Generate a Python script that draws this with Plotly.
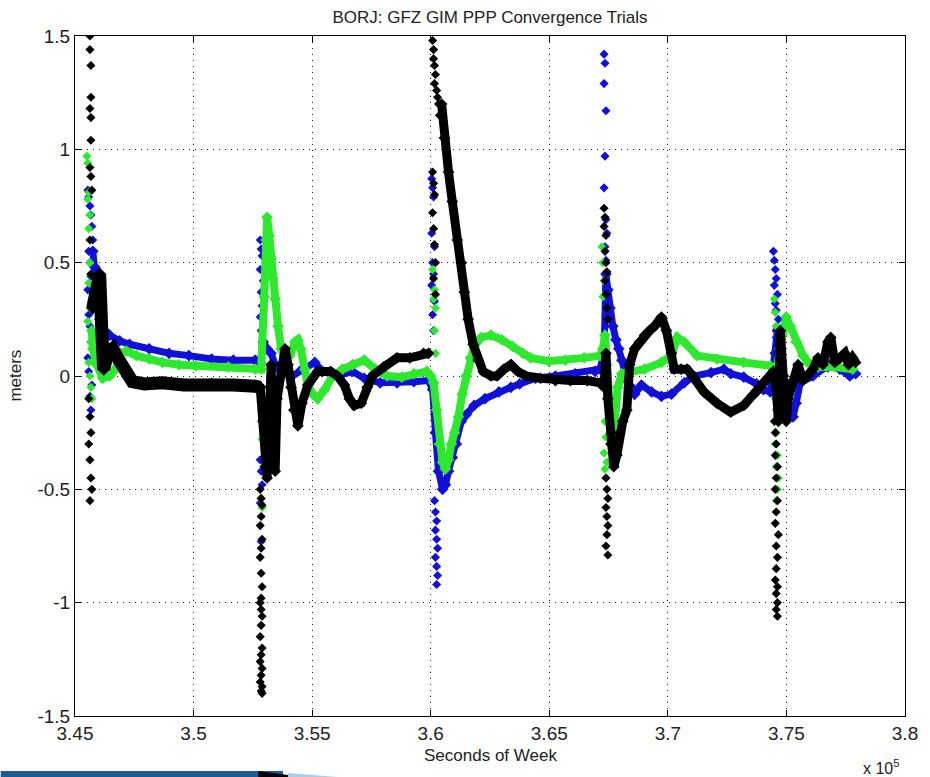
import plotly.graph_objects as go

# ---------------- data (x: seconds of week, y: meters) ----------------
blue_band_x = [345750, 345840, 345920, 346040, 346250, 346460, 346880, 347300, 348130, 348970, 349800, 350760, 351680, 352600, 352810,
               352940, 353100, 353270, 353440, 353690, 354150, 354570, 355110, 355440, 356070, 356700, 357200, 357870, 358580, 359290, 359910,
               360080, 360200, 360330, 360500, 360620, 360750, 360910, 361080, 361290, 361500, 361830, 362290, 362880, 363380, 363750, 364420, 365260, 366090, 366930, 367140,
               367310, 367390, 367470, 367560, 367680, 367810, 367930, 368060, 368270, 368470, 368600, 368890, 369310, 369730, 370150, 370690, 371110, 371820, 372360, 372650, 373200, 373740, 374030, 374320,
               374530, 374620, 374740, 374870, 375070, 375280, 375410, 375580, 376120, 376750, 376830, 377250, 377670, 377920]
blue_band_y = [0.55, 0.48, 0.38, 0.25, 0.2, 0.18, 0.155, 0.14, 0.12, 0.10, 0.09, 0.075, 0.07, 0.07, 0.06,
               0.15, 0.12, 0.1, 0.05, 0.02, 0.0, 0.03, 0.06, 0.02, 0.0, 0.02, -0.01, -0.03, -0.03, -0.025, -0.02,
               -0.06, -0.25, -0.42, -0.5, -0.48, -0.42, -0.36, -0.3, -0.2, -0.17, -0.13, -0.1, -0.07, -0.05, -0.035, -0.01, 0.0, 0.01, 0.02, 0.03,
               0.1, 0.45, 0.38, 0.3, 0.22, 0.16, 0.12, 0.07, -0.02, -0.05, -0.08, -0.04, -0.07, -0.09, -0.08, -0.03, 0.0, 0.015, 0.03, 0.01, -0.005, -0.035, -0.06, -0.07,
               0.1, 0.2, 0.05, -0.08, -0.15, -0.18, -0.12, -0.03, 0.0, 0.04, 0.05, 0.03, 0.0, 0.01]

blue_pts_x = [345540, 345580, 345630, 345670, 345710, 345750, 345580, 345630, 345670, 345540, 345710, 345580, 345630, 345670, 345540, 345580, 345710, 345630, 345670,
              352810, 352850, 352890, 352810, 352940, 352850, 352890, 352810, 352850, 352940, 352810, 352850, 352890, 352810, 352850,
              360040, 360080, 360120, 360040, 360160, 360080, 360120, 360040, 360160, 360080, 360120, 360160, 360200, 360250, 360200, 360250, 360290, 360200, 360250, 360290, 360250,
              367310, 367350, 367310, 367390, 367350, 367310, 367390, 367430, 367350, 367390,
              374450, 374490, 374530, 374570, 374490, 374620, 374530, 374570, 374660, 374620, 374570]
blue_pts_y = [0.82, 0.79, 0.75, 0.71, 0.66, 0.6, 0.55, 0.5, 0.44, 0.38, 0.33, 0.27, 0.22, 0.15, 0.08, 0.02, -0.04, -0.09, -0.15,
              0.6, 0.56, 0.53, 0.47, 0.42, 0.37, 0.31, 0.26, 0.2, 0.15, -0.37, -0.42, -0.48, -0.56, -0.73,
              0.87, 0.83, 0.79, 0.63, 0.57, 0.5, 0.45, 0.4, 0.33, 0.27, 0.2, -0.55, -0.6, -0.64, -0.68, -0.72, -0.76, -0.8, -0.84, -0.88, -0.92,
              1.42, 1.38, 1.29, 1.17, 0.97, 0.83, 0.69, 0.63, 0.57, 0.51,
              0.55, 0.51, 0.47, 0.43, 0.4, 0.36, 0.32, 0.29, 0.25, 0.21, 0.17]

green_band_x = [345710, 345750, 345920, 346170, 346460, 346710, 346920, 347170, 347590, 348130, 348680, 349390, 350100, 351470, 352600, 352850,
                352980, 353060, 353100, 353190, 353270, 353350, 353440, 353560, 353690, 353860, 354060, 354270, 354400, 354520, 354690, 354820, 355020, 355230, 355530, 355860, 356280, 356700, 357200, 357660, 358160, 358780, 359290, 359830, 360000,
                360120, 360250, 360370, 360500, 360620, 360750, 360870, 361000, 361170, 361330, 361500, 361670, 361830, 362130, 362540, 363000, 363460, 363880, 364210, 364970, 365680, 366470, 367140,
                367260, 367350, 367430, 367510, 367600, 367680, 367760, 367890, 368060, 368470, 369020, 369730, 370150, 370400, 370690, 371230, 372070, 373200, 374320, 374570,
                374740, 374870, 374990, 375160, 375410, 375700, 375910, 376330, 377040, 377790]
green_band_y = [0.2, 0.12, 0.05, -0.01, 0.0, 0.03, 0.1, 0.11, 0.09, 0.075, 0.06, 0.05, 0.045, 0.04, 0.03, 0.03,
                0.35, 0.6, 0.7, 0.62, 0.52, 0.43, 0.34, 0.22, 0.12, 0.07, 0.09, 0.15, 0.16, 0.12, 0.03, -0.04, -0.08, -0.1, -0.06, 0.0, 0.03, 0.05, 0.07, 0.03, 0.0, -0.005, 0.01, 0.02, 0.0,
                -0.03, -0.15, -0.3, -0.38, -0.41, -0.37, -0.3, -0.25, -0.18, -0.08, 0.0, 0.08, 0.13, 0.17, 0.18, 0.16, 0.13, 0.1, 0.08, 0.065, 0.07, 0.08, 0.09,
                0.12, 0.18, 0.05, -0.1, -0.25, -0.32, -0.2, -0.05, 0.01, 0.02, 0.03, 0.06, 0.09, 0.17, 0.15, 0.09, 0.075, 0.06, 0.045, 0.02,
                0.12, 0.22, 0.26, 0.22, 0.15, 0.09, 0.06, 0.04, 0.04, 0.03]

green_pts_x = [345500, 345540, 345580, 345540, 345620, 345580, 345630, 345670, 345580, 345630, 345540, 345670, 345580, 345630, 345670, 345710,
               352850, 352890, 352850, 352940, 352890, 352850, 352890,
               360080, 360120, 360160, 360120, 360200, 360160, 360200,
               367220, 367260, 367310, 367260, 367350, 367390, 367310, 367430, 367350, 367390,
               374490, 374530, 374570, 374530, 374570, 374620, 374570, 374530, 374620, 374570, 374660, 374620, 374570]
green_pts_y = [0.97, 0.94, 0.81, 0.78, 0.71, 0.65, 0.5, 0.45, 0.41, 0.3, 0.24, 0.15, 0.06, 0.0, -0.05, -0.1,
               -0.1, -0.15, -0.2, -0.24, -0.28, -0.54, -0.58,
               0.47, 0.43, 0.38, 0.34, 0.3, 0.2, 0.1,
               0.57, 0.5, 0.42, 0.35, -0.2, -0.27, -0.34, -0.38, -0.41, -0.45,
               0.34, 0.28, 0.22, -0.1, -0.15, -0.2, -0.25, -0.3, -0.35, -0.4, -0.45, -0.5, -0.55]

black1_band_x = [345750, 345920, 346040, 346130, 346210, 346380, 346590, 346800, 347000, 347210, 347420, 347920, 348680, 349590, 350760, 351680, 352600, 352810]
black1_band_y = [0.3, 0.4, 0.45, 0.2, 0.03, 0.1, 0.12, 0.08, 0.045, 0.0, -0.025, -0.035, -0.03, -0.04, -0.035, -0.04, -0.045, -0.05]

black_band_x = [352810, 352940, 353020, 353100, 353190, 353270, 353350, 353440, 353520, 353690, 353860, 353980, 354110, 354230, 354400, 354570, 354820, 355230, 355780, 356070, 356360, 356570, 356780, 357070, 357320, 357530, 358030, 358580, 359120, 359700, 359910,
                None,
                360460, 360580, 360750, 360910, 361120, 361290, 361420, 361580, 361790, 362000, 362210, 362540, 362790, 363090, 363380, 363670, 364010, 364630, 365260, 365890, 366600, 367140,
                367310, 367390, 367470, 367600, 367720, 367850, 367970, 368100, 368270, 368390, 368600, 368810, 369020, 369230, 369440, 369730, 369940, 370150, 370270, 370560, 370810, 371110, 371520, 372070, 372650, 373200, 373740, 374030, 374320, 374450,
                374570, 374660, 374740, 374870, 374990, 375070, 375280, 375490, 375700, 375910, 376120, 376330, 376540, 376750, 376870, 377040, 377290, 377460, 377620, 377790, 377920]
black_band_y = [-0.05, -0.2, -0.4, -0.45, -0.2, 0.05, -0.3, -0.42, -0.1, 0.05, 0.12, 0.05, -0.05, -0.15, -0.22, -0.12, -0.04, 0.02, 0.02, 0.0, -0.04, -0.1, -0.13, -0.12, -0.05, 0.0, 0.04, 0.08, 0.08, 0.1, 0.1,
                None,
                1.2, 1.05, 0.9, 0.77, 0.6, 0.5, 0.37, 0.25, 0.14, 0.07, 0.02, 0.0, 0.0, 0.03, 0.05, 0.02, 0.0, -0.01, -0.02, -0.02, -0.02, -0.03,
                -0.05, 0.1, -0.1, -0.3, -0.4, -0.35, -0.25, -0.2, -0.15, 0.05, 0.12, 0.15, 0.18, 0.2, 0.22, 0.26, 0.2, 0.1, 0.03, 0.03, 0.03, -0.01, -0.07, -0.12, -0.16, -0.13, -0.07, -0.03, 0.0, 0.02,
                -0.05, -0.2, 0.2, 0.0, -0.2, -0.1, -0.02, 0.05, -0.02, 0.0, 0.03, 0.08, 0.05, 0.15, 0.17, 0.06, 0.08, 0.1, 0.05, 0.08, 0.06]

black_pts_x = [345630, 345630, 345670, 345670, 345630, 345670, 345670, 345630, 345670, 345710, 345630, 345670, 345580, 345630, 345670, 345580, 345630, 345670, 345710, 345630,
               352810, 352850, 352890, 352850, 352810, 352890, 352850, 352810, 352850, 352890, 352850, 352810, 352850, 352890, 352850, 352810, 352890, 352850, 352810, 352890, 352850, 352810, 352890, 352850, 352890,
               360080, 360120, 360120, 360160, 360200, 360160, 360250, 360290, 360330, 360370, 360080, 360120, 360160, 360080, 360120, 360160, 360200, 360120, 360200,
               367310, 367350, 367310, 367390, 367350, 367390, 367430, 367350, 367390, 367430, 367470, 367390, 367430, 367470, 367390, 367430, 367470, 367430, 367390, 367470,
               374490, 374530, 374570, 374530, 374620, 374570, 374530, 374620, 374570, 374530, 374660, 374570, 374620, 374570, 374530, 374620, 374570, 374620, 374570, 374620]
black_pts_y = [1.5, 1.44, 1.37, 1.23, 1.18, 1.14, 1.04, 0.92, 0.88, 0.82, 0.6, 0.45, -0.1, -0.18, -0.25, -0.3, -0.37, -0.45, -0.5, -0.55,
               -0.5, -0.54, -0.57, -0.62, -0.66, -0.72, -0.76, -0.8, -0.87, -0.93, -0.98, -1.0, -1.03, -1.06, -1.1, -1.15, -1.2, -1.23, -1.26, -1.29, -1.32, -1.35, -1.37, -1.39, -1.4,
               1.48, 1.44, 1.4, 1.37, 1.33, 1.29, 1.26, 1.23, 1.2, 1.15, 0.9, 0.85, 0.8, 0.72, 0.65, 0.58, 0.5, 0.43, 0.36,
               0.74, 0.7, 0.66, 0.62, 0.55, 0.5, 0.46, 0.42, 0.36, 0.3, 0.25, -0.45, -0.5, -0.54, -0.58, -0.62, -0.66, -0.7, -0.75, -0.79,
               -0.2, -0.25, -0.3, -0.35, -0.4, -0.45, -0.5, -0.55, -0.6, -0.65, -0.7, -0.75, -0.8, -0.85, -0.9, -0.93, -0.96, -1.0, -1.03, -1.06]

x_tickvals = [345000, 350000, 355000, 360000, 365000, 370000, 375000, 380000]
x_ticktext = ["3.45", "3.5", "3.55", "3.6", "3.65", "3.7", "3.75", "3.8"]
y_tickvals = [-1.5, -1.0, -0.5, 0.0, 0.5, 1.0, 1.5]
y_ticktext = ["-1.5", "-1", "-0.5", "0", "0.5", "1", "1.5"]

BLUE = "#1010d8"
GREEN = "#2ee82e"
BLACK = "#000000"
FONT = "Liberation Sans, Arial, sans-serif"

fig = go.Figure()


def band(x, y, color, width, msize):
    fig.add_trace(go.Scatter(x=x, y=y, mode="lines+markers", connectgaps=False,
                             line=dict(color=color, width=width),
                             marker=dict(symbol="diamond", size=msize, color=color),
                             showlegend=False, hoverinfo="skip"))


def pts(x, y, color):
    fig.add_trace(go.Scatter(x=x, y=y, mode="markers",
                             marker=dict(symbol="diamond", size=7, color=color),
                             showlegend=False, hoverinfo="skip"))


band(blue_band_x, blue_band_y, BLUE, 7, 9)
pts(blue_pts_x, blue_pts_y, BLUE)
band(green_band_x, green_band_y, GREEN, 8, 9)
pts(green_pts_x, green_pts_y, GREEN)
band(black1_band_x, black1_band_y, BLACK, 13, 10)
band(black_band_x, black_band_y, BLACK, 9, 9)
pts(black_pts_x, black_pts_y, BLACK)

axis_common = dict(showline=True, linecolor="#000", linewidth=1, mirror="ticks",
                   ticks="inside", ticklen=6, tickcolor="#000",
                   showgrid=True, gridcolor="#222", gridwidth=1, griddash="1px,5px",
                   zeroline=False, tickfont=dict(family=FONT, size=19, color="#222"))

fig.update_layout(
    width=930, height=777,
    margin=dict(l=75, r=17, t=36, b=61),
    paper_bgcolor="white", plot_bgcolor="white",
    font=dict(family=FONT, size=17, color="#222"),
    title=dict(text="BORJ: GFZ GIM PPP Convergence Trials", x=0.5, xref="paper",
               y=1 - 17 / 777, yref="container", yanchor="middle",
               font=dict(family=FONT, size=17, color="#222")),
    xaxis=dict(range=[345000, 380000], tickvals=x_tickvals, ticktext=x_ticktext, **axis_common),
    yaxis=dict(range=[-1.5, 1.5], tickvals=y_tickvals, ticktext=y_ticktext, **axis_common),
    showlegend=False,
)

fig.add_annotation(text="Seconds of Week", xref="paper", yref="paper", x=0.5, y=(716 - 755) / 680,
                   showarrow=False, xanchor="center", yanchor="middle", font=dict(family=FONT, size=17, color="#222"))
fig.add_annotation(text="meters", xref="paper", yref="paper", x=(14 - 75) / 838, y=0.5, textangle=-90,
                   showarrow=False, xanchor="center", yanchor="middle", font=dict(family=FONT, size=17, color="#222"))
fig.add_annotation(text="x 10<sup>5</sup>", xref="paper", yref="paper", x=(889 - 75) / 838, y=(716 - 767) / 680,
                   showarrow=False, xanchor="center", yanchor="middle", font=dict(family=FONT, size=16, color="#222"))

# decorative slide swoosh at the bottom left
fig.add_shape(type="rect", xref="paper", yref="paper", x0=-75 / 838, x1=(285 - 75) / 838,
              y0=(716 - 777) / 680, y1=(716 - 771) / 680, fillcolor="#1f5a96", line=dict(width=0), layer="above")
fig.add_shape(type="path", xref="paper", yref="paper",
              path="M %f %f L %f %f L %f %f Z" % ((260 - 75) / 838, (716 - 771) / 680, (305 - 75) / 838, (716 - 777) / 680,
                                                (260 - 75) / 838, (716 - 777) / 680),
              fillcolor="#000000", line=dict(width=0), layer="above")
fig.add_shape(type="path", xref="paper", yref="paper",
              path="M %f %f L %f %f L %f %f Z" % ((290 - 75) / 838, (716 - 773) / 680, (340 - 75) / 838, (716 - 777) / 680,
                                                (290 - 75) / 838, (716 - 777) / 680),
              fillcolor="#a9cde8", line=dict(width=0), layer="above")

fig.write_html("out.html")
